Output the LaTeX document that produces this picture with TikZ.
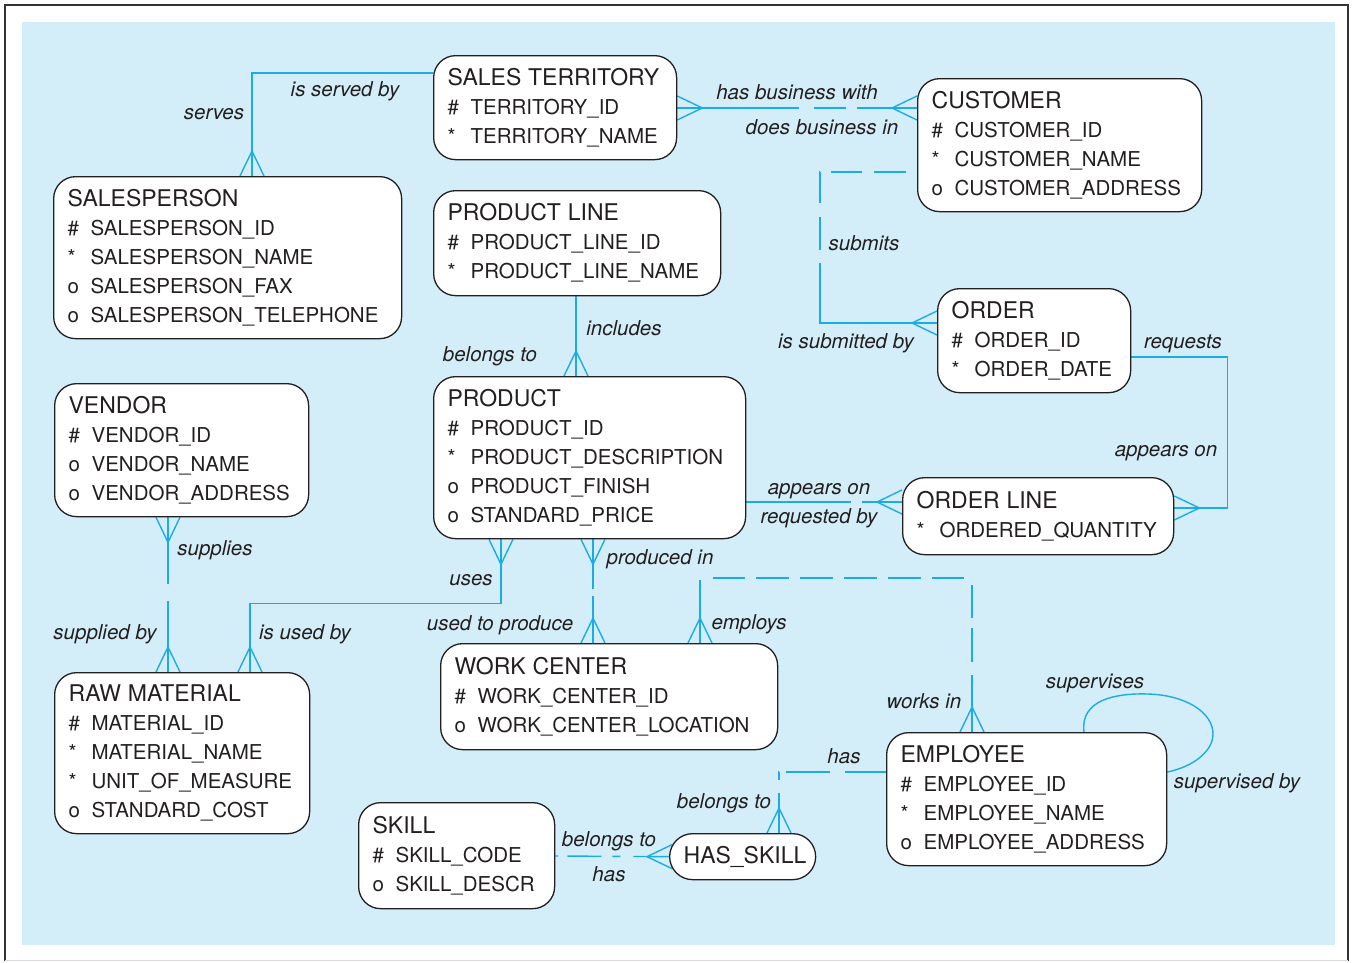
\documentclass[tikz,border=0pt]{standalone}
\usepackage{fontspec}
\setmainfont{TeX Gyre Heros}
\usetikzlibrary{calc}
\definecolor{skyback}{HTML}{D3EEF9}
\definecolor{linkblue}{HTML}{1BACE6}
\definecolor{inkgray}{HTML}{231F20}
\definecolor{framegray}{HTML}{333333}
\pgfdeclarelayer{back}
\pgfdeclarelayer{links}
\pgfsetlayers{back,links,main}
\newcommand{\etitle}[1]{{\fontsize{23}{29}\selectfont #1}}
\newcommand{\attr}[2]{\makebox[23pt][l]{#1}#2}

\begin{document}
\begin{tikzpicture}[x=1pt, y=-1pt,
  ent/.style={draw=inkgray, fill=white, line width=1.3pt, rounded corners=22pt, anchor=north west, align=left,
    inner xsep=14pt, inner ysep=0pt, text=inkgray, font=\fontsize{20.5}{29}\selectfont},
  pill/.style={ent, rounded corners=23pt, align=center, text width=118pt, minimum height=46pt},
  lbl/.style={font=\fontsize{20.5}{24}\selectfont\itshape, text=inkgray, inner sep=0pt, text height=15pt, text depth=4.5pt, yshift=-2pt},
  rel/.style={draw=linkblue, line width=1.4pt},
  crowfoot/.pic={\draw[rel] (-12,0) -- (0,-25) -- (12,0);}
]
  \useasboundingbox (0,0) rectangle (1353,962);
  \begin{pgfonlayer}{back}
    \fill[skyback] (22,22) rectangle (1335,945);
    \draw[framegray, line width=2pt] (5,961) -- (5,5) -- (1348,5) -- (1348,961);
    \draw[black!15, line width=1pt] (5,960) -- (1348,960);
  \end{pgfonlayer}

  % Entities
  \node[ent, text width=215pt, minimum height=104pt] (st) at (433,55)
    {\etitle{SALES TERRITORY}\\ \attr{\#}{TERRITORY\_ID}\\ \attr{*}{TERRITORY\_NAME}};
  \node[ent, text width=256pt, minimum height=133pt] (cust) at (917,78)
    {\etitle{CUSTOMER}\\ \attr{\#}{CUSTOMER\_ID}\\ \attr{*}{CUSTOMER\_NAME}\\ \attr{o}{CUSTOMER\_ADDRESS}};
  \node[ent, text width=320pt, minimum height=162pt] (sp) at (53,176)
    {\etitle{SALESPERSON}\\ \attr{\#}{SALESPERSON\_ID}\\ \attr{*}{SALESPERSON\_NAME}\\ \attr{o}{SALESPERSON\_FAX}\\ \attr{o}{SALESPERSON\_TELEPHONE}};
  \node[ent, text width=259pt, minimum height=105pt] (pl) at (433,190)
    {\etitle{PRODUCT LINE}\\ \attr{\#}{PRODUCT\_LINE\_ID}\\ \attr{*}{PRODUCT\_LINE\_NAME}};
  \node[ent, text width=165pt, minimum height=104pt] (ord) at (937,288)
    {\etitle{ORDER}\\ \attr{\#}{ORDER\_ID}\\ \attr{*}{ORDER\_DATE}};
  \node[ent, text width=226pt, minimum height=133pt] (ven) at (54,383)
    {\etitle{VENDOR}\\ \attr{\#}{VENDOR\_ID}\\ \attr{o}{VENDOR\_NAME}\\ \attr{o}{VENDOR\_ADDRESS}};
  \node[ent, text width=284pt, minimum height=162pt] (prod) at (433,376)
    {\etitle{PRODUCT}\\ \attr{\#}{PRODUCT\_ID}\\ \attr{*}{PRODUCT\_DESCRIPTION}\\ \attr{o}{PRODUCT\_FINISH}\\ \attr{o}{STANDARD\_PRICE}};
  \node[ent, text width=243pt, minimum height=77pt] (ol) at (902,477)
    {\etitle{ORDER LINE}\\ \attr{*}{ORDERED\_QUANTITY}};
  \node[ent, text width=309pt, minimum height=106pt] (wc) at (440,643)
    {\etitle{WORK CENTER}\\ \attr{\#}{WORK\_CENTER\_ID}\\ \attr{o}{WORK\_CENTER\_LOCATION}};
  \node[ent, text width=227pt, minimum height=161pt] (rm) at (54,672)
    {\etitle{RAW MATERIAL}\\ \attr{\#}{MATERIAL\_ID}\\ \attr{*}{MATERIAL\_NAME}\\ \attr{*}{UNIT\_OF\_MEASURE}\\ \attr{o}{STANDARD\_COST}};
  \node[ent, text width=252pt, minimum height=133pt] (emp) at (886,732)
    {\etitle{EMPLOYEE}\\ \attr{\#}{EMPLOYEE\_ID}\\ \attr{*}{EMPLOYEE\_NAME}\\ \attr{o}{EMPLOYEE\_ADDRESS}};
  \node[ent, text width=168pt, minimum height=106pt] (skill) at (358,802)
    {\etitle{SKILL}\\ \attr{\#}{SKILL\_CODE}\\ \attr{o}{SKILL\_DESCR}};
  \node[pill] (hs) at (669,833) {\etitle{HAS\_SKILL}};

  % Relationships
  \begin{pgfonlayer}{links}
    \draw[rel] (st.west |- 0,73) -| (sp.north -| 252,0);
    \draw[rel, dash pattern=on 122pt off 15pt on 32pt off 11pt on 100pt] (st.east |- 0,108) -- (cust.west |- 0,108);
    \draw[rel, dash pattern=on 0pt off 11pt on 32pt off 12pt on 31pt off 11pt on 31pt off 14pt on 33pt off 13pt on 400pt]
      (cust.west |- 0,172) -- ++(-97,0) |- (ord.west |- 0,323);
    \draw[rel] (ord.east |- 0,357) -- ++(96,0) |- (ol.east |- 0,508);
    \draw[rel, dash pattern=on 105pt off 11pt on 100pt] (prod.east |- 0,502) -- (ol.west |- 0,502);
    \draw[rel] (pl.south -| 576,0) -- (prod.north -| 576,0);
    \draw[rel, dash pattern=on 67pt off 17pt on 100pt] (ven.south -| 168,0) -- (rm.north -| 168,0);
    \draw[rel] (prod.south -| 501,0) -- ++(0,64) -| (rm.north -| 250,0);
    \draw[rel, dash pattern=on 50pt off 7pt on 100pt] (prod.south -| 593,0) -- (wc.north -| 593,0);
    \draw[rel, dash pattern=on 63pt off 15pt on 32pt off 11pt on 33pt off 11pt on 33pt off 11pt on 33pt off 11pt on 33pt off 11pt
      on 32pt off 15pt on 33pt off 10pt on 34pt off 13pt on 300pt]
      (wc.north -| 700,0) -- ++(0,-65) -| (emp.north -| 972,0);
    \draw[rel, dash pattern=on 41pt off 15pt on 44pt off 7pt on 8pt off 13pt on 100pt] (emp.west |- 0,772) -| (hs.north -| 779,0);
    \draw[rel, dash pattern=on 3pt off 9pt on 34pt off 11pt on 8pt off 13pt on 100pt] (skill.east |- 0,856) -- (hs.west);
    \draw[rel] (emp.north -| 1084,0) .. controls (1080,700) and (1115,693) .. (1148,694)
      .. controls (1185,695) and (1213,712) .. (1213,734) .. controls (1213,752) and (1192,767) .. (emp.east |- 0,772);

    % crow's feet
    \pic at (sp.north -| 252,0) {crowfoot};
    \pic[rotate=-90] at (st.east |- 0,108) {crowfoot};
    \pic[rotate=90] at (cust.west |- 0,108) {crowfoot};
    \pic[rotate=90] at (ord.west |- 0,323) {crowfoot};
    \pic[rotate=-90] at (ol.east |- 0,508) {crowfoot};
    \pic[rotate=90] at (ol.west |- 0,502) {crowfoot};
    \pic at (prod.north -| 576,0) {crowfoot};
    \pic[rotate=180] at (ven.south -| 168,0) {crowfoot};
    \pic at (rm.north -| 168,0) {crowfoot};
    \pic[rotate=180] at (prod.south -| 501,0) {crowfoot};
    \pic at (rm.north -| 250,0) {crowfoot};
    \pic[rotate=180] at (prod.south -| 593,0) {crowfoot};
    \pic at (wc.north -| 593,0) {crowfoot};
    \pic at (wc.north -| 700,0) {crowfoot};
    \pic at (emp.north -| 972,0) {crowfoot};
    \pic at (hs.north -| 779,0) {crowfoot};
    \pic[rotate=90] at ($(hs.west)+(3,0)$) {crowfoot};
  \end{pgfonlayer}

  % Labels
  \node[lbl] (lbl-isservedby) at (345,89) {is served by};
  \node[lbl] (lbl-serves) at (214,112) {serves};
  \node[lbl] (lbl-hasbiz) at (797,92) {has business with};
  \node[lbl] (lbl-doesbiz) at (822,127) {does business in};
  \node[lbl] (lbl-submits) at (864,243) {submits};
  \node[lbl] (lbl-submittedby) at (846,341) {is submitted by};
  \node[lbl] (lbl-includes) at (624,328) {includes};
  \node[lbl] (lbl-belongsto) at (490,354) {belongs to};
  \node[lbl] (lbl-requests) at (1183,341) {requests};
  \node[lbl] (lbl-appearson) at (1166,449) {appears on};
  \node[lbl] (lbl-appearson2) at (819,487) {appears on};
  \node[lbl] (lbl-requestedby) at (819,516) {requested by};
  \node[lbl] (lbl-supplies) at (215,548) {supplies};
  \node[lbl] (lbl-producedin) at (660,557) {produced in};
  \node[lbl] (lbl-uses) at (471,578) {uses};
  \node[lbl] (lbl-suppliedby) at (105,632) {supplied by};
  \node[lbl] (lbl-isusedby) at (305,632) {is used by};
  \node[lbl] (lbl-usedtoproduce) at (500,623) {used to produce};
  \node[lbl] (lbl-employs) at (749,622) {employs};
  \node[lbl] (lbl-supervises) at (1095,681) {supervises};
  \node[lbl] (lbl-worksin) at (924,701) {works in};
  \node[lbl] (lbl-has) at (844,756) {has};
  \node[lbl] (lbl-supervisedby) at (1237,781) {supervised by};
  \node[lbl] (lbl-belongsto2) at (724,801) {belongs to};
  \node[lbl] (lbl-belongsto3) at (609,839) {belongs to};
  \node[lbl] (lbl-has2) at (609,874) {has};
\end{tikzpicture}
\end{document}
